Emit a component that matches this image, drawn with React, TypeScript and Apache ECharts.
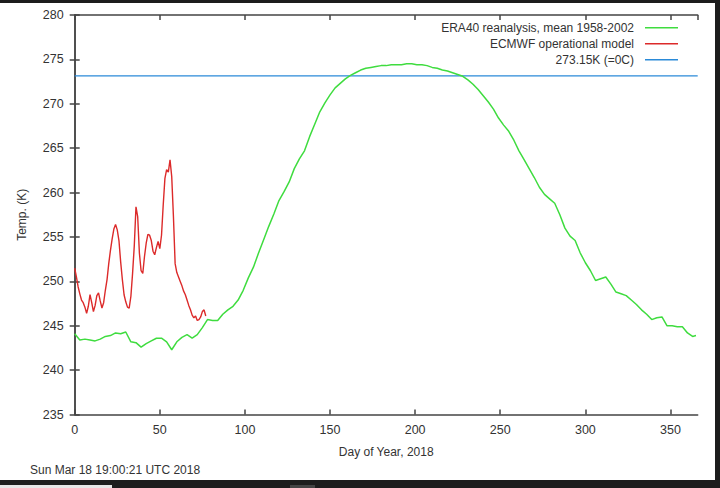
import { useEffect, useRef } from "react";
import * as echarts from "echarts";

// ERA40 climatology, sampled every 3 days (last point day 365)
const eraTemps = [
  244.1, 243.4, 243.5, 243.4, 243.3, 243.5, 243.8, 243.9, 244.2, 244.1,
  244.3, 243.2, 243.1, 242.6, 243.0, 243.3, 243.6, 243.6, 243.2, 242.3,
  243.2, 243.7, 244.0, 243.6, 244.0, 244.8, 245.7, 245.6, 245.6, 246.3,
  246.8, 247.2, 247.9, 249.0, 250.4, 251.6, 253.2, 254.7, 256.2, 257.6,
  259.1, 260.1, 261.2, 262.7, 263.8, 264.7, 266.3, 267.7, 269.1, 270.1,
  271.0, 271.8, 272.3, 272.8, 273.2, 273.5, 273.8, 274.0, 274.1, 274.2,
  274.3, 274.3, 274.4, 274.4, 274.4, 274.5, 274.5, 274.4, 274.4, 274.3,
  274.1, 274.0, 273.8, 273.7, 273.5, 273.3, 273.1, 272.7, 272.2, 271.6,
  270.9, 270.2, 269.4, 268.4, 267.6, 266.9, 265.9, 264.7, 263.7, 262.7,
  261.7, 260.6, 259.8, 259.3, 258.8, 257.5, 256.0, 255.1, 254.6, 253.2,
  252.1, 251.2, 250.1, 250.3, 250.5, 249.7, 248.8, 248.6, 248.4, 247.9,
  247.4, 246.8, 246.3, 245.7, 245.9, 246.0, 245.0, 245.0, 244.9, 244.9,
  244.2, 243.8, 243.9,
];
const eraDays = eraTemps.map((_, i) => Math.min(i * 3, 365));

// ECMWF operational analysis, daily from day 0
const ecmwfTemps = [
  251.5, 250.5, 249.4, 248.6, 247.9, 247.6, 247.1, 246.4, 247.2, 248.5,
  247.6, 246.6, 247.3, 248.4, 248.7, 247.8, 247.0, 247.6, 249.0, 250.2,
  252.0, 253.5, 254.8, 255.9, 256.4, 255.8, 254.6, 252.2, 250.2, 248.5,
  247.7, 247.1, 247.0, 248.3, 250.9, 254.0, 258.4, 257.3, 253.2, 251.2,
  250.9, 252.8, 254.3, 255.3, 255.2, 254.6, 253.4, 253.0, 253.8, 254.5,
  253.7, 255.2, 258.6, 261.6, 262.6, 262.3, 263.7, 261.8, 257.3, 252.0,
  251.0, 250.5, 250.0, 249.5, 248.9, 248.5, 247.9, 247.3, 246.8, 246.2,
  245.9, 246.1, 245.6, 245.7, 246.0, 246.6, 246.8, 246.1,
];

const freezingPoint = 273.15;
const seriesNames = ["ERA40 reanalysis, mean 1958-2002", "ECMWF operational model", "273.15K (=0C)"];

const txt = "#333";
const frame = "#444";
const font = "'Liberation Sans', Arial, sans-serif";

export default function App() {
  const ref = useRef<HTMLDivElement>(null);

  useEffect(() => {
    if (!ref.current) return;
    const chart = echarts.init(ref.current, undefined, { renderer: "svg" });

    const xBase = {
      type: "value" as const,
      min: 0,
      max: 366,
      interval: 50,
      axisLine: { show: true, lineStyle: { color: frame, width: 1.5 } },
      axisTick: { show: true, inside: true, length: 5, lineStyle: { color: frame, width: 1.5 } },
      splitLine: { show: false },
    };
    const yBase = {
      type: "value" as const,
      min: 235,
      max: 280,
      interval: 5,
      axisLine: { show: true, lineStyle: { color: frame, width: 1.5 } },
      axisTick: { show: true, inside: true, length: 5, lineStyle: { color: frame, width: 1.5 } },
      splitLine: { show: false },
    };

    chart.setOption({
      animation: false,
      backgroundColor: "#fff",
      textStyle: { fontFamily: font },
      grid: { left: 74.7, right: 22.3, top: 15, bottom: 73.4, containLabel: false },
      legend: {
        orient: "vertical",
        right: 37,
        top: 14.7,
        align: "right",
        icon: "rect",
        itemWidth: 33,
        itemHeight: 1.6,
        itemGap: 0,
        selectedMode: false,
        data: seriesNames,
        textStyle: { fontSize: 12, color: txt, lineHeight: 16, padding: [0, 6, 0, 0] },
      },
      xAxis: [
        {
          ...xBase,
          position: "bottom",
          name: "Day of Year, 2018",
          nameLocation: "middle",
          nameGap: 31,
          nameTextStyle: { fontSize: 12, color: txt },
          axisLabel: { color: txt, fontSize: 12.5, margin: 9, showMaxLabel: false },
        },
        { ...xBase, position: "top", axisLabel: { show: false } },
      ],
      yAxis: [
        {
          ...yBase,
          position: "left",
          name: "Temp. (K)",
          nameLocation: "middle",
          nameGap: 47,
          nameTextStyle: { fontSize: 12, color: txt },
          axisLabel: { color: txt, fontSize: 12.5, margin: 11 },
        },
        { ...yBase, position: "right", axisLabel: { show: false } },
      ],
      series: [
        {
          name: seriesNames[0],
          type: "line",
          showSymbol: false,
          symbol: "none",
          data: eraDays.map((d, i) => [d, eraTemps[i]]),
          lineStyle: { color: "#3fdc3f", width: 1.5 },
          itemStyle: { color: "#3fdc3f" },
          z: 3,
        },
        {
          name: seriesNames[1],
          type: "line",
          showSymbol: false,
          symbol: "none",
          data: ecmwfTemps.map((v, i) => [i, v]),
          lineStyle: { color: "#dc2a2a", width: 1.4 },
          itemStyle: { color: "#dc2a2a" },
          z: 4,
        },
        {
          name: seriesNames[2],
          type: "line",
          showSymbol: false,
          symbol: "none",
          data: [
            [0, freezingPoint],
            [366, freezingPoint],
          ],
          lineStyle: { color: "#2a8ad8", width: 1.4 },
          itemStyle: { color: "#2a8ad8" },
          z: 2,
        },
      ],
      graphic: [
        {
          type: "text",
          left: 30,
          top: 464,
          style: { text: "Sun Mar 18 19:00:21 UTC 2018", fontSize: 12, fill: txt, fontFamily: font },
        },
        { type: "rect", left: 0, top: 0, shape: { width: 720, height: 3 }, style: { fill: "#1d1d1d" } },
        { type: "rect", left: 715, top: 0, shape: { width: 5, height: 488 }, style: { fill: "#1d1d1d" } },
        { type: "rect", left: 0, top: 480, shape: { width: 720, height: 8 }, style: { fill: "#1d1d1d" } },
        { type: "rect", left: 0, top: 485, shape: { width: 112, height: 3 }, style: { fill: "#e6e6e6" } },
        { type: "rect", left: 290, top: 485, shape: { width: 25, height: 3 }, style: { fill: "#444" } },
      ],
    });

    return () => chart.dispose();
  }, []);

  return (
    <div
      ref={ref}
      style={{ position: "absolute", left: 0, top: 0, width: 720, height: 488 }}
    />
  );
}
